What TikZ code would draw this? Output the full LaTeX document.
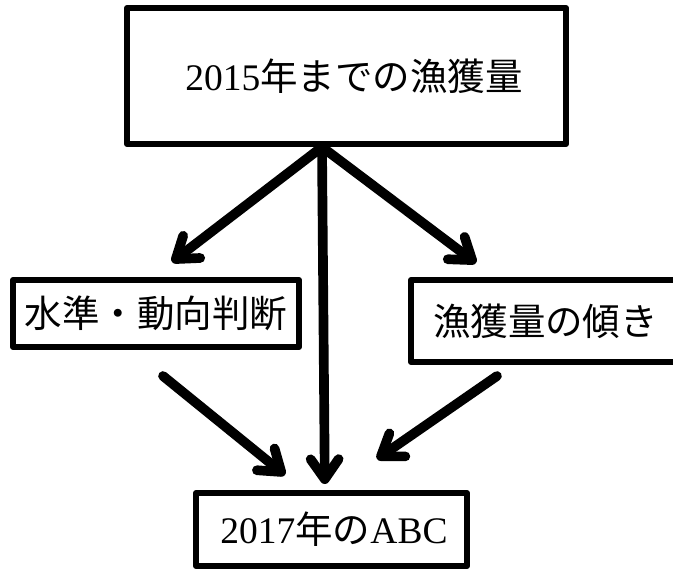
\documentclass[tikz,border=0pt]{standalone}
\usepackage{fontspec}
\setmainfont{Liberation Serif}
\newfontfamily\jpfont{Noto Sans CJK JP}
\newcommand{\ja}[1]{{\jpfont #1}}
\usetikzlibrary{arrows.meta}

\tikzset{
	box/.style={draw, line width=0.18cm, line join=round, inner sep=0pt,
		font=\fontsize{32}{36}\selectfont},
	flow/.style={line width=0.29cm, line cap=round,
		-{Straight Barb[length=0.6cm,width=0.84cm,line cap=round,line join=round]}}
}

\begin{document}
\begin{tikzpicture}[x=0.03cm,y=-0.03cm]
	\useasboundingbox (0,0) rectangle (673,571);
	\node[box,minimum width=13.17cm,minimum height=4.08cm] (catch) at (346.5,76) {\hspace{0.45cm}2015\ja{年までの漁獲量}};
	\node[box,minimum width=8.58cm,minimum height=2.01cm] (level) at (156,313.5) {\ja{水準・動向判断}\hspace{0.15cm}};
	\node[box,minimum width=8.07cm,minimum height=2.46cm] (slope) at (545.5,321) {\ja{漁獲量の傾き}};
	\node[box,minimum width=8.13cm,minimum height=2.19cm] (abc) at (331.5,529.5) {\hspace{0.15cm}2017\ja{年の}ABC};
	\path[flow]
	([xshift=-0.735cm]catch.south) edge ([xshift=0.48cm,yshift=0.45cm]level.north)
		edge ([xshift=-0.2cm,yshift=0.18cm]abc.north)
		edge ([xshift=-2.085cm,yshift=0.42cm]slope.north)
	([xshift=0.21cm,yshift=-0.78cm]level.south) edge ([xshift=-1.395cm,yshift=0.45cm]abc.north)
	([xshift=-1.455cm,yshift=-0.33cm]slope.south) edge ([xshift=1.365cm,yshift=0.93cm]abc.north);
\end{tikzpicture}
\end{document}
